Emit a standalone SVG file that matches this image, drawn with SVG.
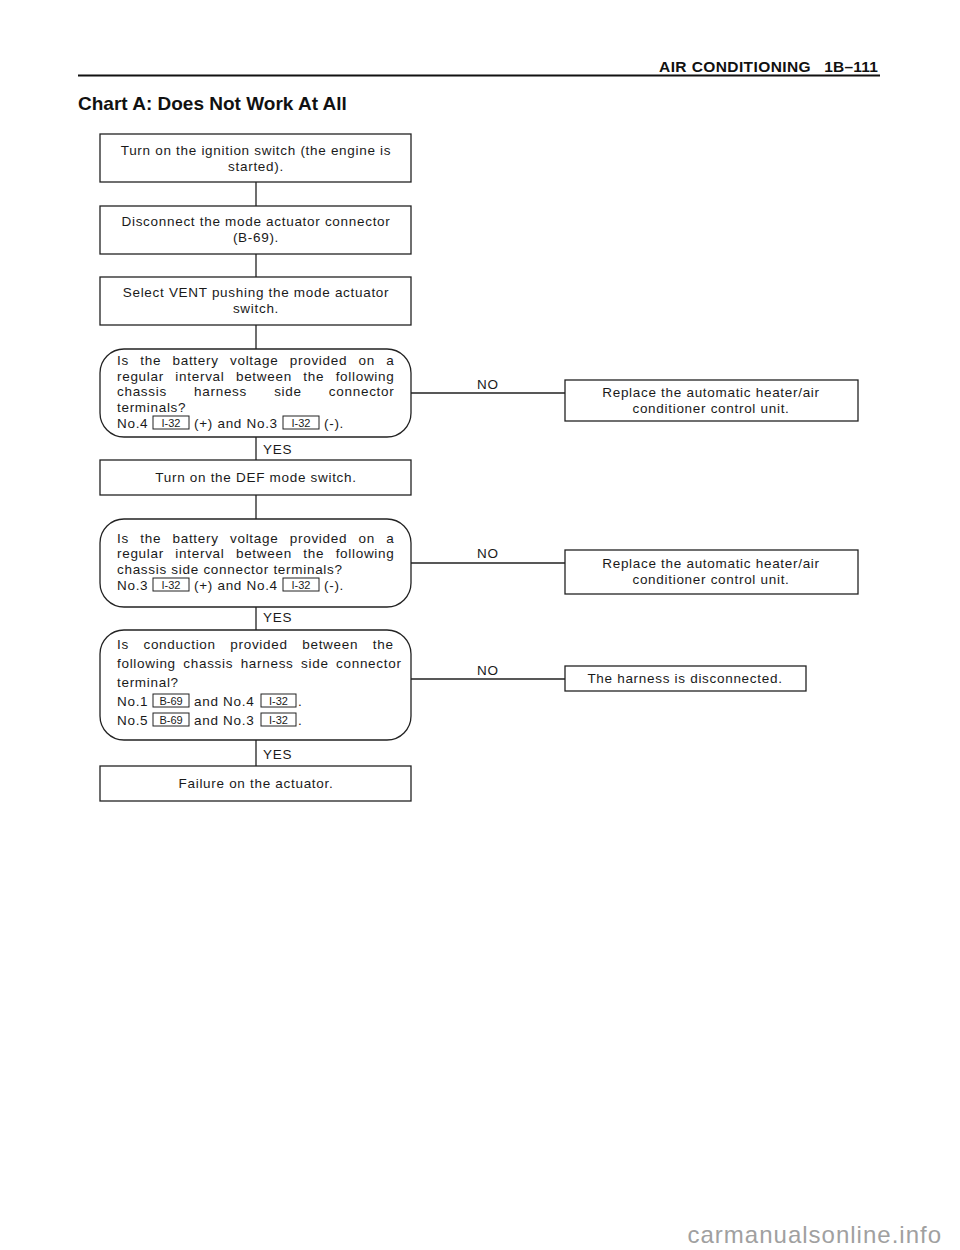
<svg xmlns="http://www.w3.org/2000/svg" width="960" height="1250" viewBox="0 0 960 1250">
<style>
.b{fill:#fff;stroke:#222;stroke-width:1.3}
.c{stroke:#222;stroke-width:1.3;fill:none}
.t{font-family:"Liberation Sans",Arial,sans-serif;font-size:13.5px;fill:#1a1a1a;letter-spacing:0.7px}
.m{text-anchor:middle}
.s{font-family:"Liberation Sans",Arial,sans-serif;font-size:11px;fill:#1a1a1a;text-anchor:middle}
.k{fill:#fff;stroke:#222;stroke-width:1}
.h{font-family:"Liberation Sans",Arial,sans-serif;font-weight:bold;fill:#111}
</style>
<rect width="960" height="1250" fill="#fff"/>
<g id="header">
<text class="h" x="811" y="72" font-size="15.5" letter-spacing="0.4" text-anchor="end">AIR CONDITIONING</text>
<text class="h" x="878" y="72" font-size="15.5" letter-spacing="0.2" text-anchor="end">1B–111</text>
<line x1="78" y1="75.5" x2="880" y2="75.5" stroke="#111" stroke-width="2"/>
<text class="h" x="78" y="110" font-size="19">Chart A: Does Not Work At All</text>
</g>
<g id="connectors">
<path class="c" d="M256 182V206M256 254V277M256 325V349M256 437V460M256 495V519M256 607V630M256 740V766"/>
<path class="c" d="M411 393H565M411 563H565M411 679H565"/>
<text class="t" x="477" y="389">NO</text>
<text class="t" x="477" y="558">NO</text>
<text class="t" x="477" y="675">NO</text>
<text class="t" x="263" y="454">YES</text>
<text class="t" x="263" y="622">YES</text>
<text class="t" x="263" y="759">YES</text>
</g>
<g id="n1"><rect class="b" x="100" y="134" width="311" height="48"/>
<text class="t m" x="256" y="155">Turn on the ignition switch (the engine is</text>
<text class="t m" x="256" y="171">started).</text></g>
<g id="n2"><rect class="b" x="100" y="206" width="311" height="48"/>
<text class="t m" x="256" y="226">Disconnect the mode actuator connector</text>
<text class="t m" x="256" y="242">(B-69).</text></g>
<g id="n3"><rect class="b" x="100" y="277" width="311" height="48"/>
<text class="t m" x="256" y="297">Select VENT pushing the mode actuator</text>
<text class="t m" x="256" y="313">switch.</text></g>
<g id="d1"><rect class="b" x="100" y="349" width="311" height="88" rx="24"/>
<text class="t" x="117" y="365" word-spacing="6.9">Is the battery voltage provided on a</text>
<text class="t" x="117" y="381" word-spacing="7.0">regular interval between the following</text>
<text class="t" x="117" y="396" word-spacing="22.7">chassis harness side connector</text>
<text class="t" x="117" y="412">terminals?</text>
<text class="t" x="117" y="428">No.4</text>
<rect class="k" x="153" y="416" width="36" height="13"/><text class="s" x="171" y="427">I-32</text>
<text class="t" x="194" y="428">(+) and No.3</text>
<rect class="k" x="283" y="416" width="36" height="13"/><text class="s" x="301" y="427">I-32</text>
<text class="t" x="324" y="428">(-).</text></g>
<g id="r1"><rect class="b" x="565" y="380" width="293" height="41"/>
<text class="t m" x="711" y="397">Replace the automatic heater/air</text>
<text class="t m" x="711" y="413">conditioner control unit.</text></g>
<g id="n4"><rect class="b" x="100" y="460" width="311" height="35"/>
<text class="t m" x="256" y="482">Turn on the DEF mode switch.</text></g>
<g id="d2"><rect class="b" x="100" y="519" width="311" height="88" rx="24"/>
<text class="t" x="117" y="543" word-spacing="6.9">Is the battery voltage provided on a</text>
<text class="t" x="117" y="558" word-spacing="7.0">regular interval between the following</text>
<text class="t" x="117" y="574">chassis side connector terminals?</text>
<text class="t" x="117" y="590">No.3</text>
<rect class="k" x="153" y="578" width="36" height="13"/><text class="s" x="171" y="589">I-32</text>
<text class="t" x="194" y="590">(+) and No.4</text>
<rect class="k" x="283" y="578" width="36" height="13"/><text class="s" x="301" y="589">I-32</text>
<text class="t" x="324" y="590">(-).</text></g>
<g id="r2"><rect class="b" x="565" y="550" width="293" height="44"/>
<text class="t m" x="711" y="568">Replace the automatic heater/air</text>
<text class="t m" x="711" y="584">conditioner control unit.</text></g>
<g id="d3"><rect class="b" x="100" y="630" width="311" height="110" rx="24"/>
<text class="t" x="117" y="649" word-spacing="10.1">Is conduction provided between the</text>
<text class="t" x="117" y="668" word-spacing="3">following chassis harness side connector</text>
<text class="t" x="117" y="687">terminal?</text>
<text class="t" x="117" y="706">No.1</text>
<rect class="k" x="153" y="694" width="36" height="13"/><text class="s" x="171" y="705">B-69</text>
<text class="t" x="194" y="706">and No.4</text>
<rect class="k" x="261" y="694" width="35" height="13"/><text class="s" x="278.5" y="705">I-32</text>
<text class="t" x="298" y="706">.</text>
<text class="t" x="117" y="725">No.5</text>
<rect class="k" x="153" y="713" width="36" height="13"/><text class="s" x="171" y="724">B-69</text>
<text class="t" x="194" y="725">and No.3</text>
<rect class="k" x="261" y="713" width="35" height="13"/><text class="s" x="278.5" y="724">I-32</text>
<text class="t" x="298" y="725">.</text></g>
<g id="r3"><rect class="b" x="565" y="666" width="241" height="25"/>
<text class="t m" x="685" y="683">The harness is disconnected.</text></g>
<g id="n5"><rect class="b" x="100" y="766" width="311" height="35"/>
<text class="t m" x="256" y="788">Failure on the actuator.</text></g>
<text x="942" y="1243" font-family="Liberation Sans,Arial,sans-serif" font-size="24" letter-spacing="1" fill="#a0a0a0" text-anchor="end">carmanualsonline.info</text>
</svg>
